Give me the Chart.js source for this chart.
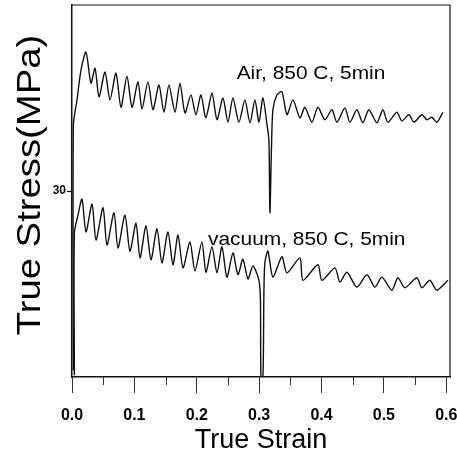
<!DOCTYPE html>
<html>
<head>
<meta charset="utf-8">
<script src="https://cdn.jsdelivr.net/npm/chart.js@4.4.1/dist/chart.umd.min.js"></script>
<style>
    html, body { margin: 0; padding: 0; background: #fff; }
</style>
</head>
<body>
<canvas id="grafico" width="457" height="456"></canvas>
<script>
// valores
var strainAir = [0.0022, 0.0022, 0.0080, 0.0144, 0.0224, 0.0304, 0.0369, 0.0433, 0.0529, 0.0609,
    0.0705, 0.0785, 0.0881, 0.0962, 0.1058, 0.1122, 0.1218, 0.1298, 0.1394, 0.1474,
    0.1554, 0.1651, 0.1731, 0.1811, 0.1907, 0.1987, 0.2067, 0.2147, 0.2244, 0.2324,
    0.2420, 0.2500, 0.2580, 0.2676, 0.2772, 0.2853, 0.2933, 0.2997, 0.3061, 0.3125,
    0.3157, 0.3173, 0.3197, 0.3221, 0.3285, 0.3365, 0.3446, 0.3542, 0.3654, 0.3734,
    0.3846, 0.3942, 0.4054, 0.4167, 0.4247, 0.4375, 0.4455, 0.4567, 0.4663, 0.4760,
    0.4888, 0.4984, 0.5064, 0.5208, 0.5288, 0.5401, 0.5481, 0.5609, 0.5689, 0.5769,
    0.5849, 0.5946]
var stressAir = [1.1, 40.6, 44.7, 49.5, 52.4, 47.4, 49.8, 45.2, 49.2, 44.7,
    49.0, 43.5, 48.5, 43.5, 47.6, 43.2, 47.6, 43.1, 47.1, 42.7,
    47.1, 42.7, 47.4, 42.6, 45.5, 42.3, 45.5, 41.8, 45.8, 41.5,
    45.0, 41.1, 45.0, 41.1, 44.7, 41.0, 44.7, 41.1, 45.0, 40.8,
    38.2, 26.5, 36.6, 43.1, 45.5, 46.0, 42.3, 44.7, 41.8, 43.5,
    41.1, 43.5, 41.5, 43.1, 41.1, 43.4, 41.1, 43.1, 41.0, 43.1,
    41.0, 43.1, 41.1, 42.7, 41.3, 42.3, 41.1, 42.3, 41.5, 41.9,
    41.1, 42.7]

var strainVacuum = [0.0038, 0.0038, 0.0096, 0.0160, 0.0224, 0.0321, 0.0385, 0.0497, 0.0561, 0.0673,
    0.0737, 0.0849, 0.0929, 0.1026, 0.1090, 0.1186, 0.1266, 0.1362, 0.1442, 0.1538,
    0.1619, 0.1699, 0.1779, 0.1891, 0.1971, 0.2083, 0.2147, 0.2244, 0.2324, 0.2404,
    0.2484, 0.2580, 0.2660, 0.2740, 0.2821, 0.2901, 0.2997, 0.3021, 0.3029, 0.3061,
    0.3077, 0.3093, 0.3141, 0.3221, 0.3365, 0.3446, 0.3654, 0.3702, 0.3942, 0.4006,
    0.4215, 0.4295, 0.4407, 0.4567, 0.4728, 0.4856, 0.4968, 0.5128, 0.5224, 0.5337,
    0.5529, 0.5609, 0.5737, 0.5849, 0.6026]
var stressVacuum = [0.3, 23.2, 26.1, 28.7, 23.4, 27.9, 22.1, 27.3, 21.3, 26.5,
    20.8, 26.1, 20.3, 24.8, 19.2, 24.4, 18.9, 23.9, 18.4, 23.4,
    18.1, 22.9, 17.6, 21.8, 17.1, 21.8, 16.9, 21.0, 16.8, 21.0,
    16.1, 20.0, 16.5, 19.0, 15.8, 17.9, 15.6, 12.4, 0, 0,
    14.0, 18.5, 20.3, 16.1, 19.4, 16.8, 19.2, 15.6, 18.1, 15.6,
    17.6, 15.3, 16.9, 14.5, 16.5, 14.5, 16.1, 14.0, 16.0, 14.4,
    16.0, 14.4, 15.6, 14.0, 15.6]

var strainTicks = [0, 0.1, 0.2, 0.3, 0.4, 0.5, 0.6]
var strainMinorTicks = [0.05, 0.15, 0.25, 0.35, 0.45, 0.55]
var stressTicks = [30]

var rotulos = ['Air, 850 C, 5min', 'vacuum, 850 C, 5min']
var rotuloStrain = [0.264, 0.218]
var rotuloStress = [48.1, 21.3]

var tituloX = 'True Strain'
var tituloY = 'True Stress(MPa)'

function pontos(xs, ys) {
    return xs.map(function (x, i) { return { x: x, y: ys[i] } })
}

function textoEsticado(ctx, texto, x, y, tamanho, esticar, rotacao, alinhar) {
    ctx.save()
    ctx.translate(x, y)
    ctx.rotate(rotacao)
    ctx.scale(esticar, 1)
    ctx.font = tamanho + 'px "Liberation Sans", Arial, sans-serif'
    ctx.fillStyle = '#000'
    ctx.textAlign = alinhar
    ctx.textBaseline = 'alphabetic'
    ctx.fillText(texto, 0, 0)
    ctx.restore()
}

// moldura, ticks menores, rótulos e títulos
var extras = {
    id: 'extras',
    afterDraw: function (chart) {
        var c = chart.ctx
        var a = chart.chartArea
        var sx = chart.scales.x
        var sy = chart.scales.y

        c.save()
        c.strokeStyle = '#111'
        c.lineWidth = 1.2
        c.beginPath()
        c.moveTo(a.left, a.top)
        c.lineTo(a.right, a.top)
        c.lineTo(a.right, a.bottom)
        c.stroke()

        c.strokeStyle = '#333'
        c.lineWidth = 1
        strainMinorTicks.forEach(function (v) {
            var px = Math.round(sx.getPixelForValue(v)) + 0.5
            c.beginPath()
            c.moveTo(px, a.bottom)
            c.lineTo(px, a.bottom + 8)
            c.stroke()
        })
        c.restore()

        rotulos.forEach(function (t, i) {
            textoEsticado(c, t, sx.getPixelForValue(rotuloStrain[i]), sy.getPixelForValue(rotuloStress[i]), 19, 1.1, 0, 'left')
        })

        textoEsticado(c, tituloX, (a.left + a.right) / 2, 448, 27, 1.0, 0, 'center')
        textoEsticado(c, tituloY, 40, 185, 33, 1.16, -Math.PI / 2, 'center')
    }
}

var ctx = document.getElementById('grafico')

var grafico = new Chart(ctx, {
    type: 'line',
    data: {
        datasets: [{
            label: 'Air, 850 C, 5min',
            data: pontos(strainAir, stressAir),
            borderColor: '#111',
            borderWidth: 1.4,
            pointRadius: 0,
            tension: 0.25,
            fill: false
        }, {
            label: 'vacuum, 850 C, 5min',
            data: pontos(strainVacuum, stressVacuum),
            borderColor: '#111',
            borderWidth: 1.4,
            pointRadius: 0,
            tension: 0.25,
            fill: false
        }]
    },
    options: {
        responsive: false,
        animation: false,
        devicePixelRatio: 1,
        layout: {
            padding: { top: 5, right: 7, left: 0, bottom: 0 }
        },
        plugins: {
            legend: { display: false },
            tooltip: { enabled: false }
        },
        scales: {
            x: {
                type: 'linear',
                min: 0,
                max: 0.606,
                afterBuildTicks: function (axis) {
                    axis.ticks = strainTicks.map(function (v) { return { value: v } })
                },
                afterFit: function (scale) {
                    scale.height = 79
                    scale.paddingLeft = 0
                    scale.paddingRight = 0
                },
                ticks: {
                    autoSkip: false,
                    maxRotation: 0,
                    padding: 13,
                    color: '#000',
                    font: { family: '"Liberation Sans", Arial, sans-serif', size: 16, weight: 'bold' },
                    callback: function (v) { return v.toFixed(1) }
                },
                grid: {
                    drawOnChartArea: false,
                    drawTicks: true,
                    tickLength: 16,
                    tickColor: '#333',
                    tickWidth: 1
                },
                border: { display: true, color: '#111', width: 1.5 }
            },
            y: {
                type: 'linear',
                min: 0,
                max: 60,
                afterBuildTicks: function (axis) {
                    axis.ticks = stressTicks.map(function (v) { return { value: v } })
                },
                afterFit: function (scale) {
                    scale.width = 72
                    scale.paddingTop = 0
                    scale.paddingBottom = 0
                },
                ticks: {
                    padding: 1,
                    color: '#000',
                    font: { family: '"Liberation Sans", Arial, sans-serif', size: 12, weight: 'bold' }
                },
                grid: {
                    drawOnChartArea: false,
                    drawTicks: true,
                    tickLength: 5,
                    tickColor: '#111',
                    tickWidth: 1.2
                },
                border: { display: true, color: '#111', width: 1.5 }
            }
        }
    },
    plugins: [extras]
})
</script>
</body>
</html>
